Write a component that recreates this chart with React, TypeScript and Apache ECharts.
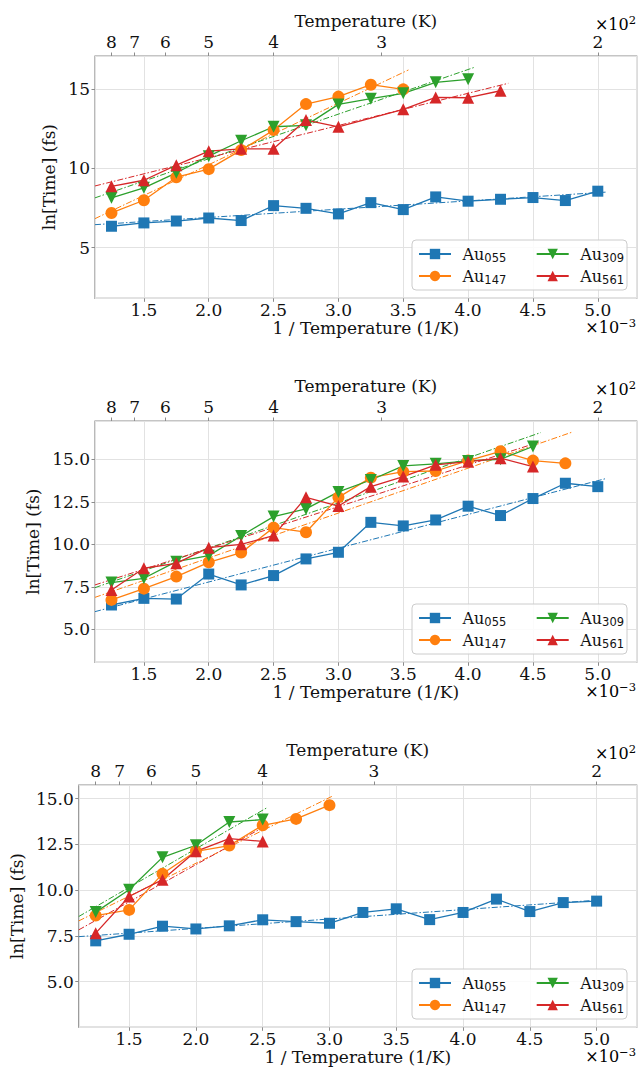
import React, { useEffect, useRef } from "react";
import * as echarts from "echarts";

// ---- data ----
const invT = [1.25, 1.5, 1.75, 2.0, 2.25, 2.5, 2.75, 3.0, 3.25, 3.5, 3.75, 4.0, 4.25, 4.5, 4.75, 5.0];
const clusterSubs = ["055", "147", "309", "561"];
const clusterColors = ["#1f77b4", "#ff7f0e", "#2ca02c", "#d62728"];
const clusterSymbols = ["rect", "circle", "triangle", "triangle"];
const clusterRotations = [0, 0, 180, 0];

// Panel 1
const p1Au055 = [6.35, 6.56, 6.68, 6.87, 6.71, 7.65, 7.48, 7.13, 7.84, 7.40, 8.20, 7.93, 8.05, 8.16, 7.97, 8.56];
const p1Au147 = [7.19, 7.99, 9.44, 9.95, 11.15, 12.41, 14.05, 14.52, 15.27, 14.98];
const p1Au309 = [8.14, 8.77, 9.72, 10.77, 11.74, 12.62, 12.71, 14.03, 14.39, 14.73, 15.42, 15.61];
const p1Au561 = [8.87, 9.25, 10.2, 11.08, 11.23, 11.23, 13.04, 12.62, null, 13.72, 14.47, 14.45, 14.89];
const p1Fit055 = [[1.123, 6.45], [5.06, 8.5]];
const p1Fit147 = [[1.123, 6.83], [3.54, 16.2]];
const p1Fit309 = [[1.123, 8.14], [4.05, 16.37]];
const p1Fit561 = [[1.123, 8.89], [4.31, 15.36]];

// Panel 2
const p2Au055 = [6.43, 6.82, 6.78, 8.25, 7.61, 8.16, 9.14, 9.53, 11.29, 11.08, 11.43, 12.24, 11.69, 12.69, 13.59, 13.39];
const p2Au147 = [6.73, 7.39, 8.1, 8.94, 9.51, 10.98, 10.71, 12.76, 13.92, 14.27, 14.31, 14.92, 15.47, 14.92, 14.76];
const p2Au309 = [7.75, 8.0, 8.98, 9.33, 10.49, 11.63, 12.08, 13.08, 13.78, 14.61, 14.73, 14.9, 15.0, 15.75];
const p2Au561 = [7.31, 8.59, 8.88, 9.8, 10.0, 10.51, 12.76, 12.25, 13.39, 13.98, 14.67, 14.86, 15.06, 14.57];
const p2Fit055 = [[1.123, 6.04], [5.07, 13.88]];
const p2Fit147 = [[1.123, 6.88], [4.8, 16.59]];
const p2Fit309 = [[1.123, 7.45], [4.56, 16.57]];
const p2Fit561 = [[1.123, 7.61], [4.56, 16.04]];

// Panel 3
const p3Au055 = [7.23, 7.59, 8.03, 7.88, 8.05, 8.38, 8.28, 8.19, 8.78, 8.98, 8.39, 8.78, 9.51, 8.83, 9.32, 9.4];
const p3Au147 = [8.61, 8.92, 10.89, 12.12, 12.43, 13.54, 13.89, 14.64];
const p3Au309 = [8.8, 10.02, 11.79, 12.45, 13.72, 13.85];
const p3Au561 = [7.65, 9.65, 10.57, 12.12, 12.81, 12.66];
const p3Fit055 = [[1.123, 7.46], [5.04, 9.47]];
const p3Fit147 = [[1.123, 8.32], [3.03, 15.16]];
const p3Fit309 = [[1.123, 8.56], [2.53, 14.49]];
const p3Fit561 = [[1.123, 7.83], [2.52, 13.5]];

// top axis tick labels: temperature in units of 100 K
const topTempLabels = [8, 7, 6, 5, 4, 3, 2];

const xRange = [1.123, 5.3];
const yRanges = [
  [1.81, 17.08],
  [3.06, 17.25],
  [2.51, 15.74],
];
const yIntervals = [5, 2.5, 2.5];

const panelData = [
  { main: [p1Au055, p1Au147, p1Au309, p1Au561], fits: [p1Fit055, p1Fit147, p1Fit309, p1Fit561] },
  { main: [p2Au055, p2Au147, p2Au309, p2Au561], fits: [p2Fit055, p2Fit147, p2Fit309, p2Fit561] },
  { main: [p3Au055, p3Au147, p3Au309, p3Au561], fits: [p3Fit055, p3Fit147, p3Fit309, p3Fit561] },
];

// ---- layout ----
const FONT = "DejaVu Serif";
const SANS = "DejaVu Sans";
const TXT = "#111111";
const SPINE = "#8c8c8c";
const GRIDC = "#e2e2e2";
const TICK_FS = 17;
const NAME_FS = 17;
const grids = [
  { left: 95, top: 56, width: 541.7, height: 242.3 },
  { left: 95, top: 421, width: 541.7, height: 241.3 },
  { left: 77.7, top: 785, width: 559, height: 242.3 },
];
const yNameGaps = [31.5, 46.5, 46.5];

export default function App() {
  const ref = useRef<HTMLDivElement>(null);
  useEffect(() => {
    if (!ref.current) return;
    const chart = echarts.init(ref.current, undefined, { renderer: "svg" });
    const topPos = topTempLabels.map((t) => 10 / t);
    const names = clusterSubs.map((s) => "Au" + s);

    const gridOpts: any[] = [];
    const xAxes: any[] = [];
    const yAxes: any[] = [];
    const series: any[] = [];
    const legends: any[] = [];
    const graphics: any[] = [];

    grids.forEach((g, i) => {
      gridOpts.push({ ...g, show: true, borderColor: SPINE, borderWidth: 1.2, backgroundColor: "#fff" });
      const tickStyle = { fontSize: TICK_FS, fontFamily: FONT, color: TXT, lineHeight: TICK_FS };
      const nameStyle = { fontSize: NAME_FS, fontFamily: FONT, color: TXT, lineHeight: NAME_FS };
      xAxes.push({
        type: "value", gridIndex: i, position: "bottom", min: xRange[0], max: xRange[1],
        minInterval: 0.5, maxInterval: 0.5,
        axisLine: { show: false },
        axisTick: { show: true, length: 3.5, lineStyle: { color: SPINE } },
        axisLabel: { ...tickStyle, margin: 3, showMinLabel: false, showMaxLabel: false, formatter: (v: number) => v.toFixed(1) },
        splitLine: { show: true, lineStyle: { color: GRIDC, width: 1 } },
        name: "1 / Temperature (1/K)", nameLocation: "middle", nameGap: 19.5, nameTextStyle: nameStyle,
      });
      xAxes.push({
        type: "value", gridIndex: i, position: "top", min: xRange[0], max: xRange[1],
        axisLine: { show: false },
        axisTick: { show: true, length: 3.5, customValues: topPos, lineStyle: { color: SPINE } },
        axisLabel: { ...tickStyle, margin: 5.5, customValues: topPos, formatter: (v: number) => String(Math.round(10 / v)) },
        splitLine: { show: false },
        name: "Temperature (K)", nameLocation: "middle", nameGap: 26.5, nameTextStyle: nameStyle,
      });
      yAxes.push({
        type: "value", gridIndex: i, min: yRanges[i][0], max: yRanges[i][1],
        minInterval: yIntervals[i], maxInterval: yIntervals[i],
        axisLine: { show: false },
        axisTick: { show: true, length: 3.5, lineStyle: { color: SPINE } },
        axisLabel: {
          ...tickStyle, margin: 5, showMinLabel: false, showMaxLabel: false,
          formatter: (v: number) => (yIntervals[i] === 5 ? String(Math.round(v)) : v.toFixed(1)),
        },
        splitLine: { show: true, lineStyle: { color: GRIDC, width: 1 } },
        name: "ln[Time] (fs)", nameLocation: "middle", nameGap: yNameGaps[i], nameRotate: 90,
        nameTextStyle: nameStyle,
      });

      const pd = panelData[i];
      pd.fits.forEach((f, k) => {
        series.push({
          type: "line", name: "fit" + k, xAxisIndex: 2 * i, yAxisIndex: i, data: f,
          showSymbol: false, silent: true, z: 2,
          lineStyle: { color: clusterColors[k], width: 1, type: [6, 2, 1.5, 2] },
        });
      });
      pd.main.forEach((arr, k) => {
        series.push({
          type: "line", name: names[k], xAxisIndex: 2 * i, yAxisIndex: i,
          data: arr.map((y, j) => [invT[j], y]),
          connectNulls: true,
          symbol: clusterSymbols[k], symbolRotate: clusterRotations[k],
          symbolSize: clusterSymbols[k] === "rect" ? 11 : 12,
          itemStyle: { color: clusterColors[k] },
          lineStyle: { color: clusterColors[k], width: 1.3 },
          z: 3,
        });
      });

      const bottom = g.top + g.height;
      const boxTop = bottom - 58.3;
      graphics.push({
        type: "rect", z: 50, shape: { x: 412, y: boxTop, width: 215, height: 50, r: 4 },
        style: { fill: "rgba(255,255,255,0.85)", stroke: "#cccccc", lineWidth: 1 },
      });
      const rich = {
        a: { fontSize: 16, fontFamily: FONT, color: TXT, padding: [0, 0, 0, 6.5], lineHeight: 19 },
        s: { fontSize: 11.5, fontFamily: SANS, color: TXT, padding: [7, 0, 0, 0] },
      };
      const fmt = (n: string) => `{a|Au}{s|${n.slice(2)}}`;
      [[names[0], names[1]], [names[2], names[3]]].forEach((col, c) => {
        legends.push({
          show: true, orient: "vertical", left: c === 0 ? 418 : 535.7, top: boxTop + 6,
          itemGap: 4.5, itemWidth: 32, itemHeight: 13, padding: 0, z: 60,
          data: col, formatter: fmt, textStyle: { rich },
          selectedMode: false,
        });
      });

      const supRich = {
        a: { fontSize: 16, fontFamily: FONT, color: TXT, lineHeight: 18 },
        b: { fontSize: 11.5, fontFamily: FONT, color: TXT, lineHeight: 10, padding: [0, 0, 8, 0] },
      };
      graphics.push({
        type: "text", z: 60, x: 636, y: g.top - 41,
        style: { text: "{a|×10}{b|2}", rich: supRich, align: "right", verticalAlign: "top" },
      });
      graphics.push({
        type: "text", z: 60, x: 636, y: bottom + 20,
        style: { text: "{a|×10}{b|−3}", rich: supRich, align: "right", verticalAlign: "top" },
      });
    });

    chart.setOption({
      animation: false,
      backgroundColor: "#ffffff",
      textStyle: { fontFamily: FONT },
      grid: gridOpts,
      xAxis: xAxes,
      yAxis: yAxes,
      legend: legends,
      series,
      graphic: graphics,
    });
    return () => chart.dispose();
  }, []);
  return <div ref={ref} style={{ position: "absolute", left: 0, top: 0, width: 638, height: 1068 }} />;
}
